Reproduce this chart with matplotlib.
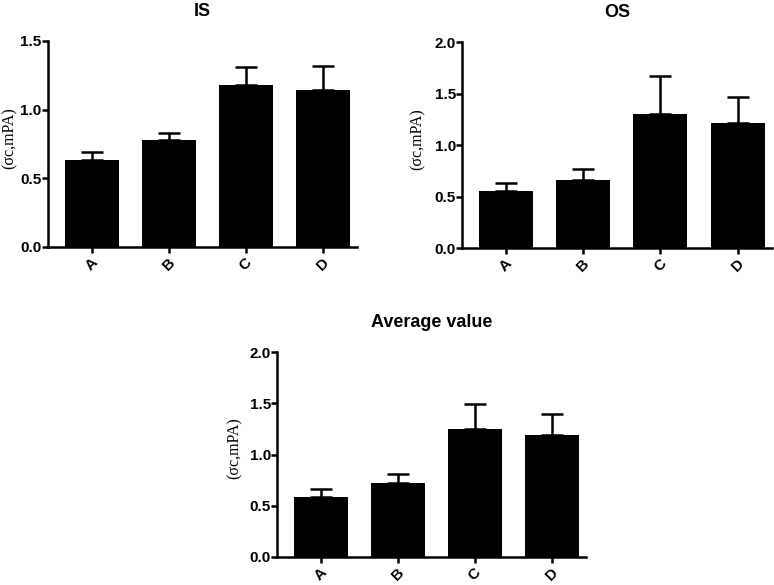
import numpy as np
import matplotlib
matplotlib.use('Agg')
import matplotlib.pyplot as plt

# data
groups = ['A', 'B', 'C', 'D']
is_mean = [0.63, 0.78, 1.18, 1.14]
is_err = [0.06, 0.05, 0.13, 0.18]
os_mean = [0.55, 0.66, 1.30, 1.21]
os_err = [0.08, 0.11, 0.37, 0.26]
avg_mean = [0.59, 0.72, 1.245, 1.19]
avg_err = [0.07, 0.09, 0.245, 0.21]

plt.rcParams['font.family'] = ['Liberation Sans', 'DejaVu Sans']


def bar_panel(ax, means, errs, title, ymax, label_x):
    '''Draw one bar chart with upper error bars'''
    x = np.arange(len(groups))
    ax.bar(x, means, width=0.7, color='black', zorder=2)
    ax.errorbar(x, means, yerr=[np.zeros(len(errs)), errs], fmt='none',
                ecolor='black', elinewidth=1.8, capsize=8, capthick=1.8, zorder=1)
    ax.set_xlim(-0.565, 3.44)
    ax.set_ylim(0, ymax)
    yt = np.arange(0, ymax + 0.01, 0.5)
    ax.set_yticks(yt)
    ax.set_yticklabels(['{:.1f}'.format(v) for v in yt])
    ax.set_xticks(x)
    ax.set_xticklabels(groups, rotation=45, ha='center')
    for s in ['top', 'right']:
        ax.spines[s].set_visible(False)
    for s in ['left', 'bottom']:
        ax.spines[s].set_linewidth(1.8)
    ax.tick_params(width=1.8, length=4, labelsize=11)
    ax.tick_params(axis='y', pad=0.5)
    ax.tick_params(axis='x', pad=2)
    for lab in ax.get_xticklabels() + ax.get_yticklabels():
        lab.set_fontweight('bold')
    # label_x is the right edge of the rotated label
    ax.set_ylabel('(σc,mPA)', family='Liberation Serif', fontsize=11.5)
    ax.yaxis.set_label_coords(label_x, 0.53)
    ax.set_title(title, fontweight='bold', fontsize=13, pad=18)


fig = plt.figure(figsize=(7.74, 5.85), dpi=100)
ax1 = fig.add_axes([0.062, 0.578, 0.399, 0.352])
ax2 = fig.add_axes([0.597, 0.576, 0.400, 0.352])
ax3 = fig.add_axes([0.358, 0.048, 0.399, 0.350])

bar_panel(ax1, is_mean, is_err, 'IS', 1.5, -0.097)
bar_panel(ax2, os_mean, os_err, 'OS', 2.0, -0.119)
bar_panel(ax3, avg_mean, avg_err, 'Average value', 2.0, -0.11)

fig.savefig('out.png', dpi=100)
